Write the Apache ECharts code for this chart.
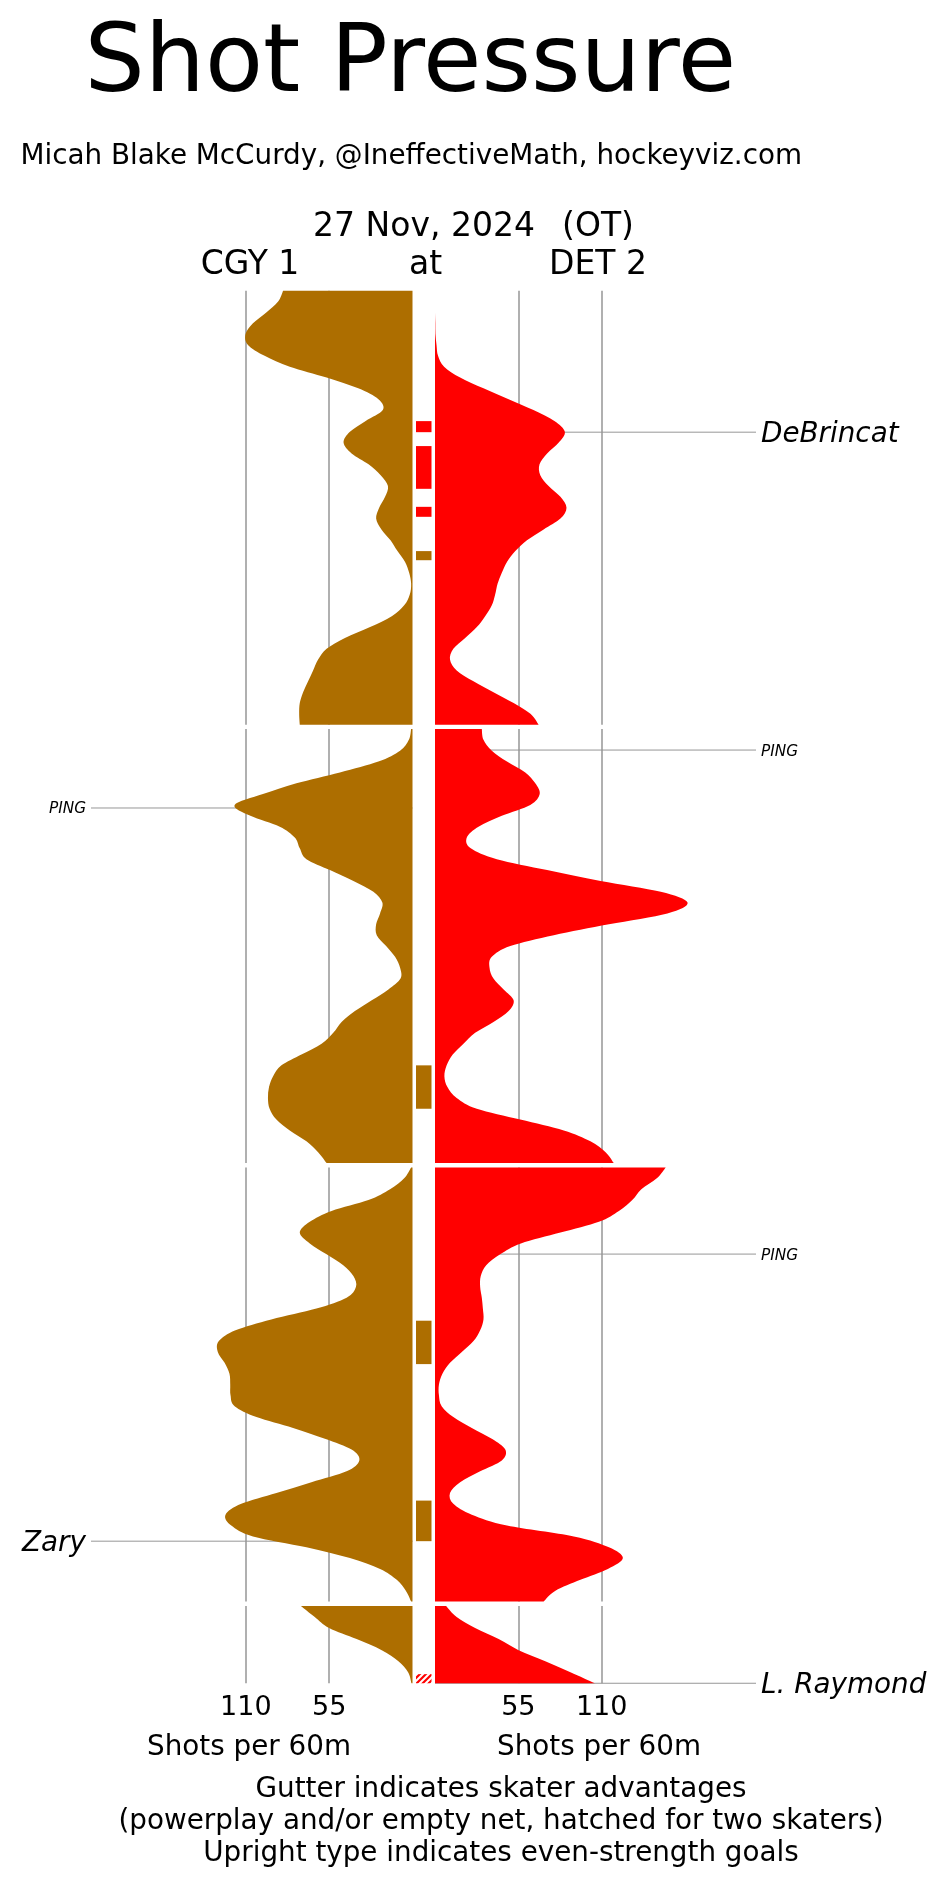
<!DOCTYPE html>
<html><head><meta charset="utf-8">
<script src="https://cdn.jsdelivr.net/npm/echarts@6/dist/echarts.min.js"></script>
<style>html,body{margin:0;padding:0;background:#fff}#chart{width:946px;height:1885px}</style>
</head><body><div id="chart"></div>
<script>
// ---------- DATA ----------
const periodLengths = [20, 20, 20, 3.56];           // minutes (OT ended at 3:34)
const tickLabels = [55, 110];                        // shots per 60m

// shot rates (shots per 60m), sampled every 0.5 min in regulation, 8 even samples in OT
const cgyP1 = [85.4, 88.7, 96.5, 105.3, 110.2, 108.6, 97.6, 81, 56.7, 35.8, 22.5, 19.6, 30.9, 41.3, 45.5, 40.2, 29, 21, 16.2, 18.1, 22, 24, 20.5, 14.5, 9.9, 4.9, 2.2, 0.9, 1.8, 5.5, 13.7, 28, 44.6, 56.7, 62.3, 65.6, 68.9, 72.2, 74.4, 74.8, 74.4];
const detP1 = [0, 0, 0, 0.2, 0.3, 1, 2, 6, 16.6, 32, 48.6, 65, 78.8, 85.7, 81.7, 74, 69, 69.5, 75, 82.8, 86.8, 82.8, 71.7, 60.7, 53, 47.5, 44.1, 41.3, 39.7, 37.5, 33.1, 27.6, 19.9, 12.1, 9.9, 14.3, 25.4, 38.6, 51.9, 63, 68.4];
const cgyP2 = [0.9, 2.4, 8.2, 22.5, 47.9, 76.6, 98.7, 117.4, 107, 87.6, 77.7, 74.4, 70, 54.5, 39, 25.8, 19.9, 21.4, 24, 23.6, 17.4, 11.5, 8.2, 7.9, 15.9, 26.9, 38, 46.8, 52.3, 60, 73.3, 86.5, 92, 94.7, 95.4, 94.3, 89.8, 81, 70, 62.3, 56.7];
const detP2 = [30.9, 32, 37.5, 47.5, 59.6, 66.2, 69.1, 62.9, 44.1, 28.7, 21, 23.6, 40.8, 74, 109.3, 149, 166.7, 153.4, 114.8, 78.4, 49.7, 37.5, 36, 38.6, 45.3, 51.9, 48.6, 38.6, 26.5, 18.8, 11.7, 7.7, 6.2, 8.2, 14.3, 27.6, 56.3, 85, 102.6, 112.6, 118];
const cgyP3 = [0.9, 5.5, 14.8, 29.1, 53.4, 67.8, 74.4, 67.8, 56.7, 45.7, 39, 37.3, 43.5, 63.4, 93.2, 116.8, 127.8, 128.5, 124, 120.8, 120.3, 120.1, 117.4, 103, 78.8, 57.8, 40.2, 35.1, 43.5, 66.7, 89.8, 113, 123.4, 119.6, 105.3, 70, 41.3, 21.4, 10.4, 4.4, 0.9];
const detP3 = [152.3, 146.4, 136.2, 130.2, 121.4, 108.2, 82.8, 56.7, 43, 33.8, 30.2, 29.8, 30.9, 31.6, 32, 29.8, 25.4, 17.7, 9.9, 4.9, 2.6, 2.6, 4.4, 12.1, 24.3, 37.5, 46.4, 44.1, 29.8, 16.6, 9.9, 12.1, 24.3, 47.5, 91.6, 114.8, 124, 114.1, 96, 79.5, 71.7];
const cgyOT = [73.7, 64.5, 55, 36.9, 20.3, 9.3, 2.9, 0.7];
const detOT = [7.3, 14.3, 26.5, 42, 55.2, 72.8, 89.4, 105.5];

// skater advantages: [periodIndex, start min, end min]
const cgyAdvantage = [[0, 12.0, 12.42], [1, 15.5, 17.5], [2, 7.06, 9.06], [2, 15.35, 17.22]];
const detAdvantage = [[0, 6.01, 6.52], [0, 7.16, 9.13], [0, 9.96, 10.42]];
const detTwoSkater = [[3, 3.14, 3.56]];

// events: [periodIndex, minute, team, label]
const events = [
  [0, 6.52, 'DET', 'DeBrincat'],
  [1, 0.97, 'DET', 'PING'],
  [1, 3.64, 'CGY', 'PING'],
  [2, 3.99, 'DET', 'PING'],
  [2, 17.22, 'CGY', 'Zary'],
  [3, 3.56, 'DET', 'L. Raymond']
];

// ---------- LAYOUT / STYLE ----------
const CGY = '#ad6e00', DET = '#ff0000', GRID = '#b0b0b0', LEADER = '#969696';
const FONT = '"DejaVu Sans", sans-serif';
const PANEL_TOPS = [290.7, 729, 1167.5, 1606];
const PX_PER_MIN = 21.7;
const LEFT = {left: 162.5, width: 250, max: 165};
const GUT = {left: 416, width: 15.5};
const RIGHT = {left: 435, width: 333.3, max: 220};
const T = 'rgba(0,0,0,0)';

const cgyData = [cgyP1, cgyP2, cgyP3, cgyOT];
const detData = [detP1, detP2, detP3, detOT];

function hatchCanvas() {
  const c = document.createElement('canvas'); c.width = 6; c.height = 6;
  const g = c.getContext('2d');
  g.fillStyle = '#fff'; g.fillRect(0, 0, 6, 6);
  g.strokeStyle = DET; g.lineWidth = 2.2;
  g.beginPath();
  g.moveTo(-1, 7); g.lineTo(7, -1);
  g.moveTo(-4, 4); g.lineTo(4, -4);
  g.moveTo(2, 10); g.lineTo(10, 2);
  g.stroke();
  return c;
}
const hatch = {image: hatchCanvas(), repeat: 'repeat'};

// smooth filled area (uniform Catmull-Rom through the sampled values), via the axes' scales
function areaSeries(axisIndex, p, values, color, isLeft) {
  const n = values.length, len = periodLengths[p];
  const times = values.map((_, i) => i * len / (n - 1));
  return {
    type: 'custom', coordinateSystem: 'cartesian2d', xAxisIndex: axisIndex, yAxisIndex: axisIndex,
    silent: true, z: 2, data: values.map((v, i) => [v, times[i]]), encode: {x: 0, y: 1},
    renderItem: (params, api) => {
      if (params.dataIndex !== 0) return null;
      const pts = values.map((v, i) => api.coord([v, times[i]]));
      const b0 = api.coord([0, 0]), b1 = api.coord([0, len]);
      const bx = b0[0];
      const cx = x => isLeft ? Math.min(x, bx) : Math.max(x, bx);
      let d = 'M' + b0[0] + ',' + b0[1] + 'L' + pts[0][0] + ',' + pts[0][1];
      for (let i = 0; i < n - 1; i++) {
        const q0 = pts[Math.max(i - 1, 0)], q1 = pts[i], q2 = pts[i + 1], q3 = pts[Math.min(i + 2, n - 1)];
        const c1x = cx(q1[0] + (q2[0] - q0[0]) / 6), c1y = q1[1] + (q2[1] - q0[1]) / 6;
        const c2x = cx(q2[0] - (q3[0] - q1[0]) / 6), c2y = q2[1] - (q3[1] - q1[1]) / 6;
        d += 'C' + c1x + ',' + c1y + ',' + c2x + ',' + c2y + ',' + q2[0] + ',' + q2[1];
      }
      d += 'L' + b1[0] + ',' + b1[1] + 'Z';
      return {type: 'path', shape: {pathData: d}, style: {fill: color}};
    }
  };
}

const grid = [], xAxis = [], yAxis = [], series = [];
for (let p = 0; p < 4; p++) {
  const top = PANEL_TOPS[p], height = periodLengths[p] * PX_PER_MIN;
  const isLast = p === 3;
  const tickLabel = {
    show: isLast, color: '#000', fontSize: 27, fontFamily: FONT, margin: 11,
    formatter: v => tickLabels.indexOf(v) >= 0 ? String(v) : ''
  };
  const timeAxis = gi => ({gridIndex: gi, type: 'value', min: 0, max: periodLengths[p], inverse: true, show: false, splitLine: {show: false}});
  // left (CGY)
  grid.push({left: LEFT.left, width: LEFT.width, top, height});
  xAxis.push({gridIndex: 3 * p, type: 'value', min: 0, max: LEFT.max, interval: 55, inverse: true,
    axisLine: {show: false}, axisTick: {show: false}, axisLabel: tickLabel,
    splitLine: {show: true, lineStyle: {color: [T, GRID, GRID, T], width: 2}}});
  yAxis.push(timeAxis(3 * p));
  series.push(areaSeries(3 * p, p, cgyData[p], CGY, true));
  // gutter
  grid.push({left: GUT.left, width: GUT.width, top, height});
  xAxis.push({gridIndex: 3 * p + 1, type: 'value', min: 0, max: 1, show: false, splitLine: {show: false}});
  yAxis.push(timeAxis(3 * p + 1));
  const gut = [];
  cgyAdvantage.filter(d => d[0] === p).forEach(d => gut.push([d[1], d[2], 0]));
  detAdvantage.filter(d => d[0] === p).forEach(d => gut.push([d[1], d[2], 1]));
  detTwoSkater.filter(d => d[0] === p).forEach(d => gut.push([d[1], d[2], 2]));
  series.push({type: 'custom', xAxisIndex: 3 * p + 1, yAxisIndex: 3 * p + 1, data: gut, silent: true, z: 3,
    renderItem: (params, api) => {
      const a = api.coord([0, api.value(0)]), b = api.coord([1, api.value(1)]);
      const kind = api.value(2);
      return {type: 'rect', shape: {x: a[0], y: a[1], width: b[0] - a[0], height: b[1] - a[1]},
        style: {fill: kind === 0 ? CGY : kind === 1 ? DET : hatch}};
    }});
  // right (DET)
  grid.push({left: RIGHT.left, width: RIGHT.width, top, height});
  xAxis.push({gridIndex: 3 * p + 2, type: 'value', min: 0, max: RIGHT.max, interval: 55,
    axisLine: {show: false}, axisTick: {show: false}, axisLabel: tickLabel,
    splitLine: {show: true, lineStyle: {color: [T, GRID, GRID, T, T], width: 2}}});
  yAxis.push(timeAxis(3 * p + 2));
  series.push(areaSeries(3 * p + 2, p, detData[p], DET, false));
}

function txt(text, x, y, size, align, italic) {
  return {type: 'text', x, y: y + 0.1 * size, silent: true, z: 10,
    style: {text, font: (italic ? 'italic ' : '') + size + 'px ' + FONT, fill: '#000',
      align, textAlign: align, verticalAlign: 'middle', textVerticalAlign: 'middle'}};
}

const headers = [
  txt('Shot Pressure', 84.4, 57, 95, 'left'),
  txt('Micah Blake McCurdy, @IneffectiveMath, hockeyviz.com', 20.5, 153.5, 27.8, 'left'),
  txt('27 Nov, 2024', 424, 224, 33, 'center'),
  txt('(OT)', 598, 224, 33, 'center'),
  txt('CGY 1', 250, 262.5, 33, 'center'),
  txt('at', 425.5, 262.5, 33, 'center'),
  txt('DET 2', 598, 262.5, 33, 'center'),
  txt('Shots per 60m', 249, 1745, 27.8, 'center'),
  txt('Shots per 60m', 599, 1745, 27.8, 'center'),
  txt('Gutter indicates skater advantages', 501, 1787, 27.8, 'center'),
  txt('(powerplay and/or empty net, hatched for two skaters)', 501, 1819, 27.8, 'center'),
  txt('Upright type indicates even-strength goals', 501, 1851, 27.8, 'center')
];

const chart = echarts.init(document.getElementById('chart'), null, {renderer: 'canvas'});
chart.setOption({animation: false, backgroundColor: '#fff', grid, xAxis, yAxis, series, graphic: headers});

// leader lines + event labels positioned through the time axes
const extra = headers.slice();
events.forEach(([p, t, team, name]) => {
  const y = chart.convertToPixel({yAxisIndex: 3 * p + 1}, t);
  const big = name !== 'PING';
  const size = big ? 27.8 : 15.3;
  if (team === 'DET') {
    extra.push({type: 'line', z: 1, silent: true, shape: {x1: RIGHT.left, y1: y, x2: 756, y2: y},
      style: {stroke: LEADER, lineWidth: 1}});
    extra.push(txt(name, 761, y, size, 'left', true));
  } else {
    extra.push({type: 'line', z: 1, silent: true, shape: {x1: 91, y1: y, x2: LEFT.left + LEFT.width, y2: y},
      style: {stroke: LEADER, lineWidth: 1}});
    extra.push(txt(name, 86, y, size, 'right', true));
  }
});
chart.setOption({graphic: extra}, {replaceMerge: ['graphic']});
</script></body></html>
